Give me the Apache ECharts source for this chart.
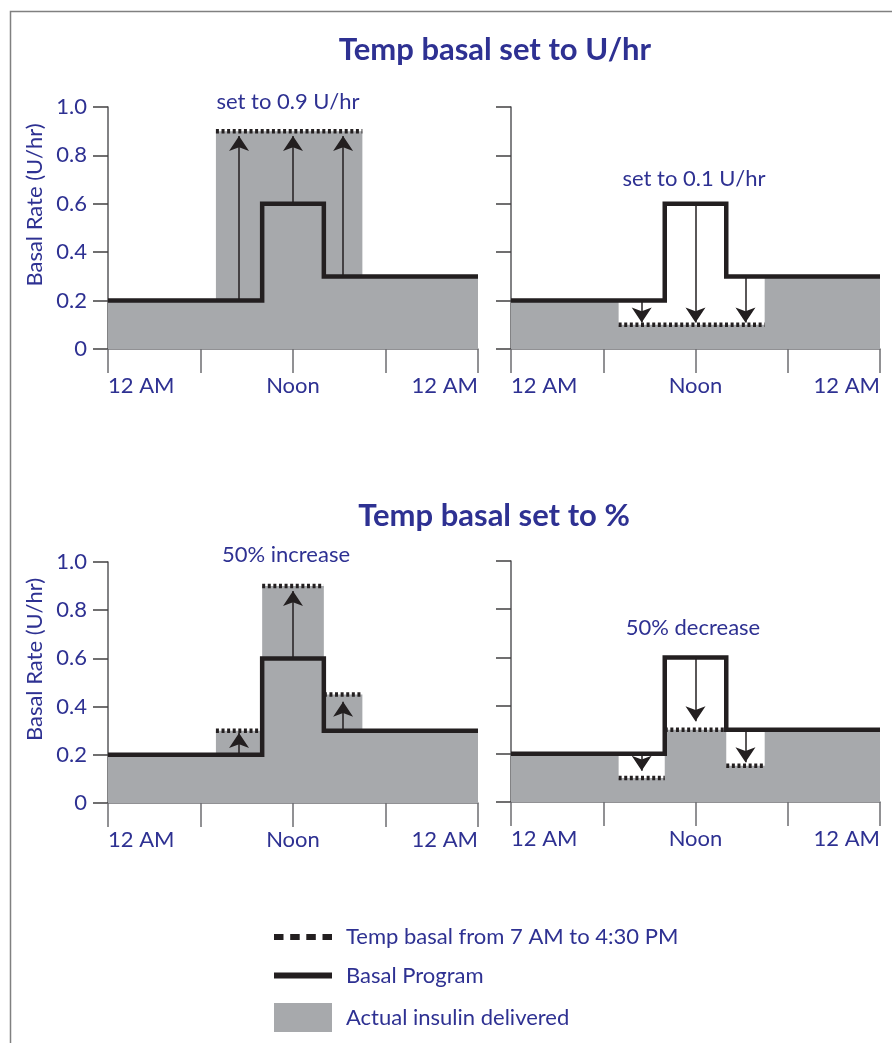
<!DOCTYPE html>
<html>
<head>
<meta charset="utf-8">
<script src="https://cdn.jsdelivr.net/npm/echarts@6/dist/echarts.min.js"></script>
<style>
  html, body { margin: 0; padding: 0; background: #fff; }
  #chart { width: 892px; height: 1043px; }
</style>
</head>
<body>
<div id="chart"></div>
<script>
// x axis: hours of the day
const hourLabels = { 0: "12 AM", 12: "Noon", 24: "12 AM" };

// basal program, same in every panel: [start hour, U/hr]
const basalProgram = [[0, 0.2], [10, 0.6], [14, 0.3], [24, 0.3]];

// temp basal 7 AM - 4:30 PM: [from hour, to hour, U/hr]
const tempSetUp = [[7, 16.5, 0.9]];
const tempSetDown = [[7, 16.5, 0.1]];
const tempPctUp = [[7, 10, 0.3], [10, 14, 0.9], [14, 16.5, 0.45]];
const tempPctDown = [[7, 10, 0.1], [10, 14, 0.3], [14, 16.5, 0.15]];

// actual insulin delivered: [start hour, U/hr]
const deliveredSetUp = [[0, 0.2], [7, 0.9], [16.5, 0.3], [24, 0.3]];
const deliveredSetDown = [[0, 0.2], [7, 0.1], [16.5, 0.3], [24, 0.3]];
const deliveredPctUp = [[0, 0.2], [7, 0.3], [10, 0.9], [14, 0.45], [16.5, 0.3], [24, 0.3]];
const deliveredPctDown = [[0, 0.2], [7, 0.1], [10, 0.3], [14, 0.15], [16.5, 0.3], [24, 0.3]];

// arrows: [hour, from U/hr, to U/hr]
const arrowsSetUp = [[8.5, 0.2, 0.88], [12, 0.6, 0.88], [15.25, 0.3, 0.88]];
const arrowsSetDown = [[8.5, 0.2, 0.11], [12, 0.6, 0.11], [15.25, 0.3, 0.11]];
const arrowsPctUp = [[8.5, 0.2, 0.29], [12, 0.6, 0.88], [15.25, 0.3, 0.42]];
const arrowsPctDown = [[8.5, 0.2, 0.13], [12, 0.6, 0.335], [15.25, 0.3, 0.165]];

const panelNotes = ["set to 0.9 U/hr", "set to 0.1 U/hr", "50% increase", "50% decrease"];
const sectionTitles = ["Temp basal set to U/hr", "Temp basal set to %"];

const NAME_TEMP = "Temp basal from 7 AM to 4:30 PM";
const NAME_BASAL = "Basal Program";
const NAME_DELIVERED = "Actual insulin delivered";

const NAVY = "#2e3192";
const INK = "#231f20";
const GRAY = "#a7a9ac";
const FONT = "Lato";

const panels = [
  { temp: tempSetUp, delivered: deliveredSetUp, arrows: arrowsSetUp },
  { temp: tempSetDown, delivered: deliveredSetDown, arrows: arrowsSetDown },
  { temp: tempPctUp, delivered: deliveredPctUp, arrows: arrowsPctUp },
  { temp: tempPctDown, delivered: deliveredPctDown, arrows: arrowsPctDown }
];

// grid boxes (px)
const grids = [
  { left: 108, top: 107, width: 370, height: 242 },
  { left: 511, top: 107, width: 369, height: 242 },
  { left: 108, top: 562, width: 370, height: 241 },
  { left: 511, top: 561, width: 369, height: 241 }
];

function tempLine(segs) {
  const out = [];
  segs.forEach(function (s) {
    out.push([s[0], s[2]], [s[1], s[2]], [s[1], "-"]);
  });
  return out;
}

let xAxes = [], yAxes = [], series = [];
panels.forEach(function (p, i) {
  const left = i % 2 === 0;
  xAxes.push({
    type: "value",
    gridIndex: i,
    min: 0,
    max: 24,
    interval: 6,
    splitLine: { show: false },
    axisLine: { show: true, lineStyle: { color: "#6d6e71", width: 1.5 } },
    axisTick: { show: true, length: 24, lineStyle: { color: "#6d6e71", width: 1.5 } },
    axisLabel: {
      formatter: function (v) { return hourLabels[v] || ""; },
      color: NAVY,
      fontSize: 22,
      fontFamily: FONT,
      margin: 26,
      showMinLabel: true,
      showMaxLabel: true,
      alignMinLabel: "left",
      alignMaxLabel: "right"
    }
  });
  yAxes.push({
    type: "value",
    gridIndex: i,
    min: 0,
    max: 1,
    interval: 0.2,
    splitLine: { show: false },
    axisLine: { show: true, lineStyle: { color: "#58595b", width: 1.5 } },
    axisTick: { show: true, length: 15, lineStyle: { color: "#414042", width: 1.5 } },
    axisLabel: {
      show: left,
      formatter: function (v) { return v === 0 ? "0" : v.toFixed(1); },
      color: NAVY,
      fontSize: 22,
      fontFamily: FONT,
      margin: 21
    },
    name: left ? "Basal Rate (U/hr)" : "",
    nameLocation: "middle",
    nameRotate: 90,
    nameGap: 62,
    nameTextStyle: { color: NAVY, fontSize: 22, fontFamily: FONT, padding: [0, 0, 0, 46] }
  });

  series.push({
    type: "line",
    name: NAME_DELIVERED,
    xAxisIndex: i,
    yAxisIndex: i,
    data: p.delivered,
    step: "end",
    symbol: "none",
    silent: true,
    lineStyle: { width: 0, opacity: 0 },
    itemStyle: { color: GRAY },
    areaStyle: { color: GRAY, opacity: 1 },
    z: 1
  });
  series.push({
    type: "lines",
    coordinateSystem: "cartesian2d",
    xAxisIndex: i,
    yAxisIndex: i,
    silent: true,
    symbol: ["none", "arrow"],
    symbolSize: [7.5, 15],
    lineStyle: { color: INK, width: 1.5, opacity: 1, curveness: 0 },
    data: p.arrows.map(function (a) { return { coords: [[a[0], a[1]], [a[0], a[2]]] }; }),
    z: 2
  });
  series.push({
    type: "line",
    name: NAME_BASAL,
    xAxisIndex: i,
    yAxisIndex: i,
    data: basalProgram,
    step: "end",
    symbol: "none",
    silent: true,
    itemStyle: { color: INK },
    lineStyle: { color: INK, width: 4.5, join: "miter" },
    z: 3
  });
  series.push({
    type: "line",
    name: NAME_TEMP,
    xAxisIndex: i,
    yAxisIndex: i,
    data: tempLine(p.temp),
    symbol: "none",
    silent: true,
    connectNulls: false,
    itemStyle: { color: INK },
    lineStyle: { color: INK, width: 4.5, type: [3, 2.6], cap: "butt" },
    z: 4
  });
});

const notePos = [[288, 102], [694, 179], [286, 555], [693, 628]];
const titlePos = [[495, 50], [494, 516]];

let graphics = [{
  type: "rect",
  silent: true,
  z: -10,
  shape: { x: 10.5, y: 11.5, width: 1000, height: 1100 },
  style: { fill: "none", stroke: "#808080", lineWidth: 1.5 }
}];
sectionTitles.forEach(function (t, i) {
  graphics.push({
    type: "text",
    x: titlePos[i][0],
    y: titlePos[i][1],
    silent: true,
    style: {
      text: t, fill: NAVY, fontSize: 31, fontWeight: "bold", fontFamily: FONT,
      align: "center", verticalAlign: "middle", textAlign: "center", textVerticalAlign: "middle"
    }
  });
});
panelNotes.forEach(function (t, i) {
  graphics.push({
    type: "text",
    x: notePos[i][0],
    y: notePos[i][1],
    silent: true,
    style: {
      text: t, fill: NAVY, fontSize: 22, fontFamily: FONT,
      align: "center", verticalAlign: "middle", textAlign: "center", textVerticalAlign: "middle"
    }
  });
});

const chart = echarts.init(document.getElementById("chart"));
chart.setOption({
  animation: false,
  backgroundColor: "#fff",
  textStyle: { fontFamily: FONT },
  grid: grids.map(function (g) {
    return Object.assign({ containLabel: false, outerBoundsMode: "none" }, g);
  }),
  xAxis: xAxes,
  yAxis: yAxes,
  series: series,
  legend: {
    orient: "vertical",
    left: 274,
    top: 926,
    padding: 0,
    itemWidth: 58,
    itemHeight: 29,
    itemGap: 16.5,
    selectedMode: false,
    symbolKeepAspect: true,
    textStyle: { color: NAVY, fontSize: 22, fontFamily: FONT, padding: [0, 0, 0, 9] },
    data: [
      { name: NAME_TEMP, icon: "path://M0,0h9.5v6h-9.5z M16.2,0h9.5v6h-9.5z M32.3,0h9.5v6h-9.5z M48.5,0h9.5v6h-9.5z", itemStyle: { color: INK, borderWidth: 0 } },
      { name: NAME_BASAL, icon: "path://M0,0h58v6h-58z", itemStyle: { color: INK, borderWidth: 0 } },
      { name: NAME_DELIVERED, icon: "rect", itemStyle: { color: GRAY, borderWidth: 0 } }
    ]
  },
  graphic: graphics
});
</script>
</body>
</html>
